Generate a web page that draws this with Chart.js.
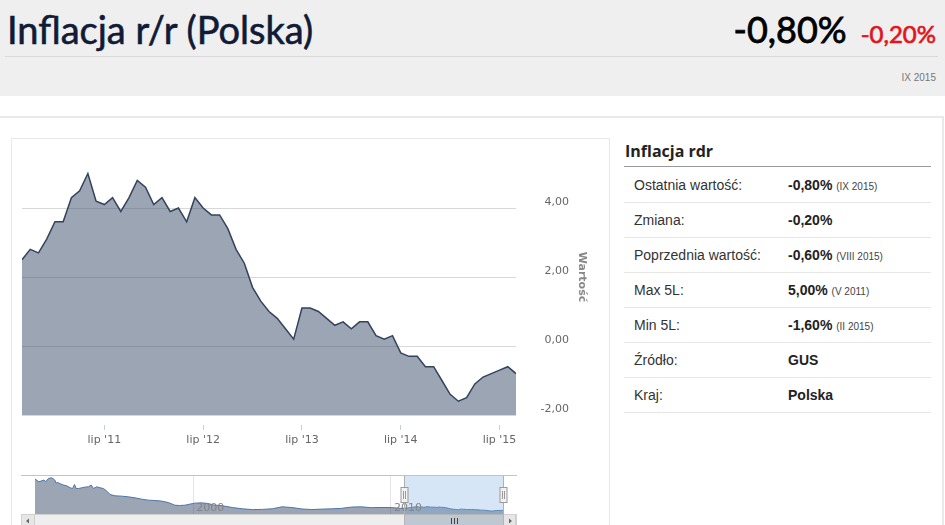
<!DOCTYPE html>
<html lang="pl">
<head>
<meta charset="utf-8">
<title>Inflacja r/r (Polska)</title>
<script src="https://cdn.jsdelivr.net/npm/chart.js@4.4.1/dist/chart.umd.min.js"></script>
<style>
  html, body { margin: 0; padding: 0; background: #fff; }
  body { width: 945px; height: 525px; overflow: hidden; position: relative; font-family: "Liberation Sans", Arial, sans-serif; }
  .band { position: absolute; left: 0; top: 0; width: 945px; height: 96px; background: #efefef; }
  .title { position: absolute; left: 7px; top: 6px; font-family: Lato, "Open Sans", sans-serif; font-size: 38px; line-height: 46px; color: #111b36; white-space: nowrap; -webkit-text-stroke: 0.6px #111b36; }
  .quote { position: absolute; right: 9px; top: 6px; font-family: Lato, "Open Sans", sans-serif; line-height: 46px; white-space: nowrap; }
  .quote .last { font-size: 36px; color: #000; -webkit-text-stroke: 0.8px #000; }
  .quote .chg { font-size: 24px; color: #e3141e; margin-left: 14px; -webkit-text-stroke: 0.7px #e3141e; }
  .sep { position: absolute; left: 5px; top: 56px; width: 933px; height: 1px; background: #d9d9d9; }
  .date { position: absolute; right: 9px; top: 72px; font-size: 10px; color: #777; }
  .panel-top { position: absolute; left: 0; top: 116px; width: 943px; height: 2px; background: #e9e9e9; }
  .panel-right { position: absolute; left: 942px; top: 116px; width: 2px; height: 420px; background: #e9e9e9; }
  .chart-box { position: absolute; left: 11px; top: 138px; width: 597px; height: 400px; border: 1px solid #e8e8e8; }
  #mainWrap { position: absolute; left: 11px; top: 139px; width: 599px; height: 316px; }
  #navWrap { position: absolute; left: 21px; top: 470px; width: 496px; height: 55px; }
  .info-title { position: absolute; left: 625px; top: 139px; font-family: "Open Sans", Lato, sans-serif; font-weight: bold; font-size: 16px; line-height: 24px; color: #222; }
  .info-line { position: absolute; left: 624px; top: 166px; width: 307px; height: 1px; background: #999; }
  table.info { position: absolute; left: 624px; top: 168px; width: 307px; border-collapse: collapse; font-size: 14px; color: #333; }
  table.info td { height: 34px; border-bottom: 1px solid #e6e6e6; padding: 0; vertical-align: middle; }
  table.info td.k { padding-left: 10px; width: 154px; }
  table.info td.v { font-weight: bold; color: #222; }
  table.info small { font-weight: normal; font-size: 10px; color: #444; }
</style>
</head>
<body>
<div class="band"></div>
<div class="title">Inflacja r/r (Polska)</div>
<div class="quote"><span class="last">-0,80%</span><span class="chg">-0,20%</span></div>
<div class="sep"></div>
<div class="date">IX 2015</div>
<div class="panel-top"></div>
<div class="panel-right"></div>
<div class="chart-box"></div>
<div id="mainWrap"><canvas id="mainChart" width="599" height="316"></canvas></div>
<div id="navWrap"><canvas id="navChart" width="496" height="55"></canvas></div>

<div class="info-title">Inflacja rdr</div>
<div class="info-line"></div>
<table class="info">
  <tr><td class="k">Ostatnia wartość:</td><td class="v">-0,80% <small>(IX 2015)</small></td></tr>
  <tr><td class="k">Zmiana:</td><td class="v">-0,20%</td></tr>
  <tr><td class="k">Poprzednia wartość:</td><td class="v">-0,60% <small>(VIII 2015)</small></td></tr>
  <tr><td class="k">Max 5L:</td><td class="v">5,00% <small>(V 2011)</small></td></tr>
  <tr><td class="k">Min 5L:</td><td class="v">-1,60% <small>(II 2015)</small></td></tr>
  <tr><td class="k">Źródło:</td><td class="v">GUS</td></tr>
  <tr><td class="k">Kraj:</td><td class="v">Polska</td></tr>
</table>

<script>
// Monthly CPI y/y, IX 2010 - IX 2015
const months = [
  '2010-09', '2010-10', '2010-11', '2010-12',
  '2011-01', '2011-02', '2011-03', '2011-04', '2011-05', '2011-06', '2011-07', '2011-08', '2011-09', '2011-10', '2011-11', '2011-12',
  '2012-01', '2012-02', '2012-03', '2012-04', '2012-05', '2012-06', '2012-07', '2012-08', '2012-09', '2012-10', '2012-11', '2012-12',
  '2013-01', '2013-02', '2013-03', '2013-04', '2013-05', '2013-06', '2013-07', '2013-08', '2013-09', '2013-10', '2013-11', '2013-12',
  '2014-01', '2014-02', '2014-03', '2014-04', '2014-05', '2014-06', '2014-07', '2014-08', '2014-09', '2014-10', '2014-11', '2014-12',
  '2015-01', '2015-02', '2015-03', '2015-04', '2015-05', '2015-06', '2015-07', '2015-08', '2015-09'
];
const values = [
  2.5, 2.8, 2.7, 3.1,
  3.6, 3.6, 4.3, 4.5, 5.0, 4.2, 4.1, 4.3, 3.9, 4.3, 4.8, 4.6,
  4.1, 4.3, 3.9, 4.0, 3.6, 4.3, 4.0, 3.8, 3.8, 3.4, 2.8, 2.4,
  1.7, 1.3, 1.0, 0.8, 0.5, 0.2, 1.1, 1.1, 1.0, 0.8, 0.6, 0.7,
  0.5, 0.7, 0.7, 0.3, 0.2, 0.3, -0.2, -0.3, -0.3, -0.6, -0.6, -1.0,
  -1.4, -1.6, -1.5, -1.1, -0.9, -0.8, -0.7, -0.6, -0.8
];
const tickMonths = ['2011-07', '2012-07', '2013-07', '2014-07', '2015-07'];
const tickLabels = ["lip '11", "lip '12", "lip '13", "lip '14", "lip '15"];
const yTicks = [-2, 0, 2, 4];

// Navigator: longer history (before IX 2010)
const navYears = [
  1992.0, 1992.2, 1992.3, 1992.45, 1992.55, 1992.65, 1992.8, 1992.9, 1993.0, 1993.07,
  1993.15, 1993.27, 1993.45, 1993.6, 1993.78, 1993.9, 1994.0, 1994.08, 1994.2, 1994.37,
  1994.53, 1994.7, 1994.84, 1994.96, 1995.12, 1995.29, 1995.46, 1995.63, 1995.8, 1996.05,
  1996.38, 1996.72, 1997.06, 1997.39, 1997.73, 1998.06, 1998.4, 1998.74, 1999.07, 1999.32,
  1999.58, 1999.83, 2000.08, 2000.42, 2000.76, 2001.0, 2001.5, 2002.0, 2002.5, 2003.0,
  2003.5, 2004.0, 2004.5, 2005.0, 2005.5, 2006.0, 2006.5, 2007.0, 2007.5, 2008.0,
  2008.5, 2009.0, 2009.5, 2010.0, 2010.5
];
const navValues = [
  45.5, 41.5, 42.5, 44.0, 41.5, 45.5, 47.4, 46.4, 44.0, 39.6,
  40.5, 38.6, 36.6, 35.6, 32.6, 31.6, 37.5, 31.6, 31.6, 32.6,
  33.6, 34.1, 36.6, 31.6, 34.1, 32.6, 31.6, 27.7, 22.7, 20.8,
  20.3, 19.3, 17.8, 15.9, 14.4, 13.9, 13.0, 10.9, 7.0, 6.5,
  7.0, 8.5, 10.0, 10.4, 9.5, 7.4, 6.0, 3.4, 1.6, 0.5,
  0.8, 1.7, 4.6, 3.5, 1.4, 0.6, 1.2, 1.6, 2.3, 4.2,
  4.6, 3.3, 3.6, 3.5, 2.3
];
const navTickYears = [2000, 2010];
const navTickLabels = ['2000', '2010'];

function monthToYear(m) {
    const [y, mo] = m.split('-').map(Number);
    return y + (mo - 1) / 12;
}

const fillColor = 'rgba(56,75,105,0.5)';
const rangeStart = monthToYear(months[0]);
const rangeEnd = monthToYear(months[months.length - 1]);

// Main chart
new Chart(document.getElementById('mainChart'), {
    type: 'line',
    data: {
        datasets: [{
            label: 'Inflacja r/r',
            data: values.map((v, i) => ({ x: i, y: v })),
            borderColor: '#34435c',
            backgroundColor: fillColor,
            borderWidth: 1.5,
            fill: 'start',
            pointRadius: 0,
            tension: 0
        }]
    },
    options: {
        responsive: false,
        animation: false,
        layout: { padding: { left: 11, right: 41, top: 0, bottom: 0 } },
        plugins: { legend: { display: false }, tooltip: { enabled: false } },
        scales: {
            x: {
                type: 'linear',
                min: 0,
                max: months.length - 1,
                afterBuildTicks: s => { s.ticks = tickMonths.map(m => ({ value: months.indexOf(m) })); },
                afterFit: s => { s.height = 40; s.paddingLeft = 0; s.paddingRight = 0; },
                grid: { drawOnChartArea: false, drawTicks: true, tickLength: 15, color: '#c0d0e0', tickBorderDash: [0, 10, 5, 50] },
                border: { display: false },
                ticks: {
                    autoSkip: false, maxRotation: 0, padding: 4, color: '#666',
                    font: { family: 'DejaVu Sans', size: 11 },
                    callback: v => tickLabels[tickMonths.indexOf(months[v])]
                }
            },
            y: {
                position: 'right',
                min: -2,
                max: 6,
                afterBuildTicks: s => { s.ticks = yTicks.map(v => ({ value: v })); },
                afterFit: s => { s.width = 53; s.paddingTop = 0; s.paddingBottom = 0; },
                grid: { color: '#d8d8d8', drawTicks: false },
                border: { display: false },
                ticks: {
                    crossAlign: 'far', padding: 0, labelOffset: -6, color: '#666',
                    font: { family: 'DejaVu Sans', size: 11 },
                    callback: v => v.toFixed(2).replace('.', ',')
                },
                title: {
                    display: true, text: 'Wartość', color: '#888',
                    font: { family: 'DejaVu Sans', size: 11, weight: 'bold' },
                    padding: { top: -19.6, bottom: 0 }
                }
            }
        }
    }
});

// Navigator with mask, handles, labels and scrollbar
const navigatorDecor = {
    id: 'navigatorDecor',
    afterDatasetsDraw(chart) {
        const { ctx, chartArea: a, scales: { x } } = chart;
        const x1 = Math.round(x.getPixelForValue(rangeStart)) + 0.5;
        const x2 = Math.round(x.getPixelForValue(rangeEnd)) + 0.5;
        ctx.save();

        ctx.fillStyle = 'rgba(118,172,228,0.3)';
        ctx.fillRect(x1, a.top, x2 - x1, a.bottom - a.top);

        ctx.fillStyle = '#858585';
        ctx.font = '11px "DejaVu Sans"';
        ctx.textBaseline = 'alphabetic';
        navTickYears.forEach((yr, i) => {
            ctx.fillText(navTickLabels[i], x.getPixelForValue(yr) + 3, a.bottom - 3);
        });

        ctx.lineWidth = 1;
        ctx.strokeStyle = '#c4c4c4';
        ctx.beginPath();
        ctx.moveTo(0, a.top - 0.5); ctx.lineTo(chart.width, a.top - 0.5);
        ctx.stroke();
        ctx.strokeStyle = '#b0b0b0';
        ctx.beginPath();
        ctx.moveTo(x1, a.top); ctx.lineTo(x1, a.bottom);
        ctx.moveTo(x2, a.top); ctx.lineTo(x2, a.bottom);
        ctx.stroke();

        [x1, x2].forEach(hx => {
            ctx.fillStyle = '#f2f2f2';
            ctx.strokeStyle = '#999';
            ctx.fillRect(hx - 3.5, 17.5, 7, 15);
            ctx.strokeRect(hx - 3.5, 17.5, 7, 15);
            ctx.beginPath();
            ctx.moveTo(hx - 1, 21); ctx.lineTo(hx - 1, 29);
            ctx.moveTo(hx + 1, 21); ctx.lineTo(hx + 1, 29);
            ctx.stroke();
        });

        // scrollbar
        const sy = a.bottom;
        const w = chart.width;
        ctx.fillStyle = '#eeeeee';
        ctx.fillRect(0, sy, w, 14);
        ctx.strokeStyle = '#d0d0d0';
        ctx.strokeRect(0.5, sy + 0.5, w - 1, 14);
        ctx.fillStyle = '#e6e6e6';
        ctx.fillRect(0.5, sy + 0.5, 13, 14);
        ctx.fillRect(w - 14.5, sy + 0.5, 13, 14);
        ctx.strokeRect(0.5, sy + 0.5, 13, 14);
        ctx.strokeRect(w - 14.5, sy + 0.5, 13, 14);
        ctx.fillStyle = '#666';
        ctx.beginPath();
        ctx.moveTo(5, sy + 7); ctx.lineTo(8, sy + 4.5); ctx.lineTo(8, sy + 9.5); ctx.closePath();
        ctx.moveTo(w - 5, sy + 7); ctx.lineTo(w - 8, sy + 4.5); ctx.lineTo(w - 8, sy + 9.5); ctx.closePath();
        ctx.fill();
        ctx.fillStyle = '#bfc7d0';
        ctx.fillRect(x1, sy + 0.5, x2 - x1, 14);
        ctx.strokeStyle = '#b5b5b5';
        ctx.strokeRect(x1, sy + 0.5, x2 - x1, 14);
        const cx = Math.round((x1 + x2) / 2) + 0.5;
        ctx.strokeStyle = '#444';
        ctx.beginPath();
        [-3, 0, 3].forEach(d => { ctx.moveTo(cx + d, sy + 4); ctx.lineTo(cx + d, sy + 10); });
        ctx.stroke();
        ctx.restore();
    }
};

const navPoints = navYears.map((yr, i) => ({ x: yr, y: navValues[i] }))
    .concat(months.map((m, i) => ({ x: monthToYear(m), y: values[i] })));

new Chart(document.getElementById('navChart'), {
    type: 'line',
    data: {
        datasets: [{
            data: navPoints,
            borderColor: '#4f74a8',
            backgroundColor: fillColor,
            borderWidth: 1,
            fill: 'start',
            pointRadius: 0,
            tension: 0
        }]
    },
    options: {
        responsive: false,
        animation: false,
        layout: { padding: { left: 14, right: 14, top: 6, bottom: 11 } },
        plugins: { legend: { display: false }, tooltip: { enabled: false } },
        scales: {
            x: {
                type: 'linear',
                min: 1992,
                max: rangeEnd,
                afterBuildTicks: s => { s.ticks = navTickYears.map(v => ({ value: v })); },
                afterFit: s => { s.height = 0; s.paddingLeft = 0; s.paddingRight = 0; },
                grid: { color: '#e4e4e4', drawTicks: false },
                border: { display: false },
                ticks: { display: false }
            },
            y: { display: false, min: -6, max: 50 }
        }
    },
    plugins: [navigatorDecor]
});
</script>
</body>
</html>
